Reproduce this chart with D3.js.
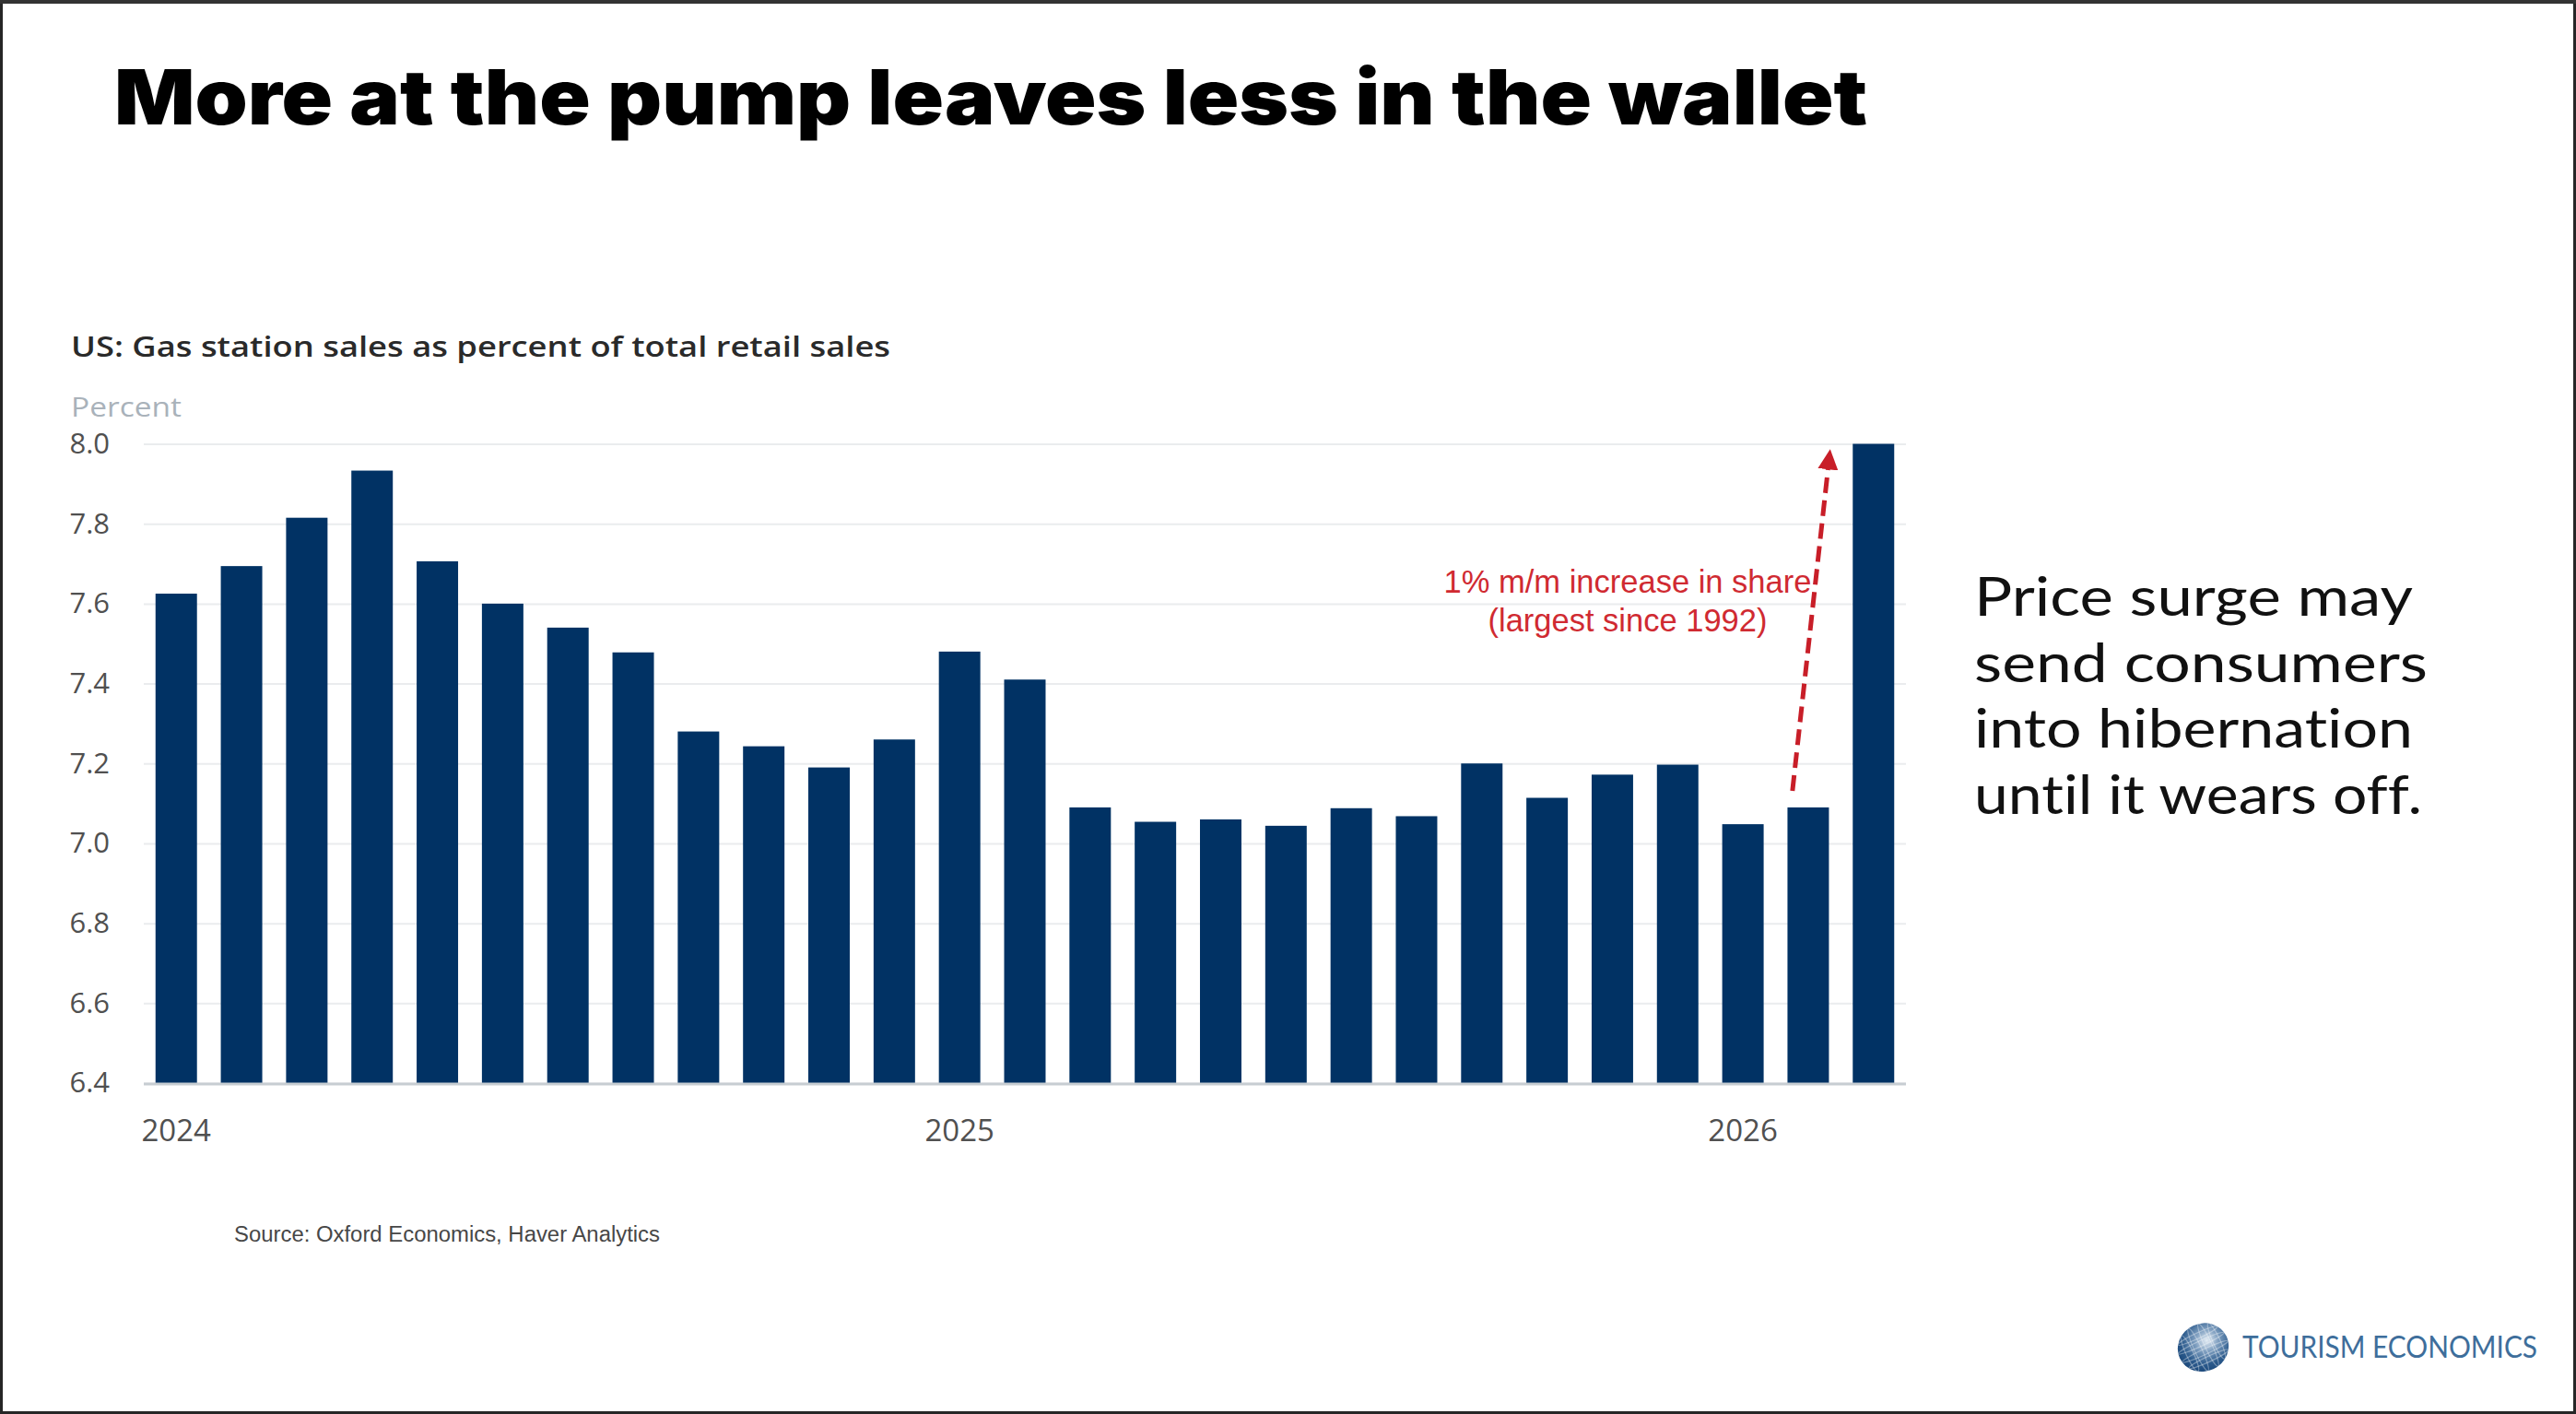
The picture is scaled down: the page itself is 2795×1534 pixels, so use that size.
<!DOCTYPE html>
<html>
<head>
<meta charset="utf-8">
<script src="https://cdn.jsdelivr.net/npm/d3@7"></script>
<style>
  html, body { margin: 0; padding: 0; background: #ffffff; }
  svg { display: block; }
  text { font-variant-ligatures: none; font-feature-settings: "liga" 0, "clig" 0; }
</style>
</head>
<body>
<svg id="slide" width="2795" height="1534"></svg>
<script>
// ---------- data ----------
const months = [
  "2024-01","2024-02","2024-03","2024-04","2024-05","2024-06","2024-07","2024-08","2024-09","2024-10","2024-11","2024-12",
  "2025-01","2025-02","2025-03","2025-04","2025-05","2025-06","2025-07","2025-08","2025-09","2025-10","2025-11","2025-12",
  "2026-01","2026-02","2026-03"
];
const shareValues = [
  7.625, 7.694, 7.815, 7.933, 7.706, 7.600, 7.540, 7.478, 7.280, 7.243, 7.190, 7.260,
  7.480, 7.410, 7.090, 7.054, 7.060, 7.044, 7.088, 7.068, 7.200, 7.114, 7.172, 7.197,
  7.048, 7.090, 8.000
];
const yTickValues = [6.4, 6.6, 6.8, 7.0, 7.2, 7.4, 7.6, 7.8, 8.0];
const xTickMonths = ["2024-01", "2025-01", "2026-01"];
const xTickLabels = ["2024", "2025", "2026"];
const titleText = "More at the pump leaves less in the wallet";
const chartTitle = "US: Gas station sales as percent of total retail sales";
const unitLabel = "Percent";
const annotationLines = ["1% m/m increase in share", "(largest since 1992)"];
const sideTextLines = ["Price surge may", "send consumers", "into hibernation", "until it wears off."];
const sourceText = "Source: Oxford Economics, Haver Analytics";
const logoText = "TOURISM ECONOMICS";

// ---------- setup ----------
const svg = d3.select("#slide");
const W = 2795, H = 1534;

svg.append("rect").attr("x", 0).attr("y", 0).attr("width", W).attr("height", H).attr("fill", "#ffffff");

// Title
svg.append("text")
  .attr("x", 124).attr("y", 135)
  .attr("font-family", "Inter, Lato, 'Open Sans', sans-serif")
  .attr("font-weight", 900)
  .attr("font-size", 83)
  .attr("fill", "#000")
  .attr("textLength", 1902)
  .attr("lengthAdjust", "spacingAndGlyphs")
  .text(titleText);

// Chart titles
svg.append("text")
  .attr("x", 77).attr("y", 387)
  .attr("font-family", "'Open Sans', 'Noto Sans', sans-serif")
  .attr("font-weight", 600)
  .attr("font-size", 30)
  .attr("fill", "#2a2a2a")
  .attr("textLength", 889)
  .attr("lengthAdjust", "spacingAndGlyphs")
  .text(chartTitle);

svg.append("text")
  .attr("x", 77).attr("y", 452)
  .attr("font-family", "'Open Sans', 'Noto Sans', sans-serif")
  .attr("font-size", 30)
  .attr("fill", "#a9b2ba")
  .attr("textLength", 120)
  .attr("lengthAdjust", "spacingAndGlyphs")
  .text(unitLabel);

// ---------- scales ----------
const x = d3.scaleBand()
  .domain(months)
  .range([156, 2068])
  .paddingInner(0.365)
  .paddingOuter(0.18);

const y = d3.scaleLinear()
  .domain([6.4, 8.0])
  .range([1175, 481.5]);

// gridlines + y labels via axis
const yAxis = d3.axisLeft(y)
  .tickValues(yTickValues)
  .tickSize(-(2068 - 156))
  .tickPadding(37)
  .tickFormat(d3.format(".1f"));

const gy = svg.append("g")
  .attr("transform", "translate(156,0)")
  .call(yAxis);
gy.select(".domain").remove();
gy.selectAll(".tick line")
  .attr("stroke", "#eaecee")
  .attr("stroke-width", 2);
gy.selectAll(".tick text")
  .attr("font-family", "'Open Sans', 'Noto Sans', sans-serif")
  .attr("font-size", 31)
  .attr("fill", "#505050");

// bars
svg.append("g")
  .selectAll("rect")
  .data(months)
  .join("rect")
  .attr("x", d => x(d))
  .attr("width", x.bandwidth())
  .attr("y", (d, i) => y(shareValues[i]))
  .attr("height", (d, i) => y(6.4) - y(shareValues[i]))
  .attr("fill", "#013264");

// baseline
svg.append("line")
  .attr("x1", 156).attr("x2", 2068)
  .attr("y1", y(6.4) + 1).attr("y2", y(6.4) + 1)
  .attr("stroke", "#c7cdd2")
  .attr("stroke-width", 3);

// x axis labels
const xAxis = d3.axisBottom(x)
  .tickValues(xTickMonths)
  .tickSize(0)
  .tickPadding(0)
  .tickFormat(d => xTickLabels[xTickMonths.indexOf(d)]);

const gx = svg.append("g")
  .attr("transform", "translate(0,1175)")
  .call(xAxis);
gx.select(".domain").remove();
gx.selectAll(".tick text")
  .attr("dy", null)
  .attr("y", 63)
  .attr("font-family", "'Open Sans', 'Noto Sans', sans-serif")
  .attr("font-size", 33)
  .attr("fill", "#505050");

// ---------- annotation ----------
const red = "#c81e28";
const defs = svg.append("defs");
defs.append("marker")
  .attr("id", "arrowHead")
  .attr("viewBox", "0 0 10 10")
  .attr("refX", 9).attr("refY", 5)
  .attr("markerWidth", 4.4).attr("markerHeight", 4.4)
  .attr("markerUnits", "strokeWidth")
  .attr("orient", "auto")
  .append("path")
  .attr("d", "M0,0 L10,5 L0,10 Z")
  .attr("fill", red);

const iFrom = months.indexOf("2026-02");
const iTo = months.indexOf("2026-03");
const ax1 = x(months[iFrom]) + x.bandwidth() * 0.12;
const ay1 = y(shareValues[iFrom]) - 18;
const ax2 = x(months[iTo]) - x.bandwidth() * 0.55;
const ay2 = y(shareValues[iTo]) + 8;

svg.append("line")
  .attr("x1", ax1).attr("y1", ay1)
  .attr("x2", ax2).attr("y2", ay2)
  .attr("stroke", red)
  .attr("stroke-width", 5)
  .attr("stroke-dasharray", "17,8")
  .attr("marker-end", "url(#arrowHead)");

svg.append("g")
  .selectAll("text")
  .data(annotationLines)
  .join("text")
  .attr("x", 1766)
  .attr("y", (d, i) => 643 + i * 42)
  .attr("text-anchor", "middle")
  .attr("font-family", "'Liberation Sans', Arial, sans-serif")
  .attr("font-size", 34.5)
  .attr("fill", "#d02a31")
  .text(d => d);

// ---------- side text ----------
const sideWidths = [476, 492, 476, 486];
svg.append("g")
  .selectAll("text")
  .data(sideTextLines)
  .join("text")
  .attr("x", 2142)
  .attr("y", (d, i) => 668 + i * 71.7)
  .attr("font-family", "Lato, 'Open Sans', sans-serif")
  .attr("font-weight", 400)
  .attr("font-size", 58)
  .attr("fill", "#111")
  .attr("textLength", (d, i) => sideWidths[i])
  .attr("lengthAdjust", "spacingAndGlyphs")
  .text(d => d);

// ---------- source ----------
svg.append("text")
  .attr("x", 254).attr("y", 1347)
  .attr("font-family", "'Liberation Sans Narrow', 'Liberation Sans', Arial, sans-serif")
  .attr("font-size", 23)
  .attr("fill", "#474747")
  .attr("textLength", 462)
  .attr("lengthAdjust", "spacingAndGlyphs")
  .text(sourceText);

// ---------- logo ----------
const grad = defs.append("radialGradient")
  .attr("id", "globeGrad")
  .attr("cx", "62%").attr("cy", "40%").attr("r", "65%");
grad.append("stop").attr("offset", "0%").attr("stop-color", "#e4edf5");
grad.append("stop").attr("offset", "35%").attr("stop-color", "#7f9fc0");
grad.append("stop").attr("offset", "75%").attr("stop-color", "#2b5a8c");
grad.append("stop").attr("offset", "100%").attr("stop-color", "#1d4a7c");

const globe = svg.append("g").attr("transform", "translate(2390.5,1461.7) rotate(-25)");
globe.append("ellipse").attr("rx", 28).attr("ry", 26).attr("fill", "url(#globeGrad)");
[-14, -5, 5, 14].forEach(dy => {
  globe.append("ellipse").attr("cx", 0).attr("cy", dy).attr("rx", Math.sqrt(Math.max(0, 1 - (dy * dy) / (26 * 26))) * 28).attr("ry", 3)
    .attr("fill", "none").attr("stroke", "rgba(255,255,255,0.35)").attr("stroke-width", 1.2);
});
[-16, -6, 6, 16].forEach(dx => {
  globe.append("ellipse").attr("cx", dx).attr("cy", 0).attr("rx", 4).attr("ry", 26 * Math.sqrt(Math.max(0, 1 - (dx * dx) / (28 * 28))))
    .attr("fill", "none").attr("stroke", "rgba(255,255,255,0.35)").attr("stroke-width", 1.2);
});

svg.append("text")
  .attr("x", 2433).attr("y", 1473)
  .attr("font-family", "Lato, 'Open Sans', sans-serif")
  .attr("font-size", 32)
  .attr("fill", "#3e6e9b")
  .attr("textLength", 320)
  .attr("lengthAdjust", "spacingAndGlyphs")
  .text(logoText);

// ---------- slide frame ----------
svg.append("rect")
  .attr("x", 1.5).attr("y", 1.5)
  .attr("width", W - 3).attr("height", H - 3)
  .attr("fill", "none")
  .attr("stroke", "#262626")
  .attr("stroke-width", 3);
svg.append("rect")
  .attr("x", 0).attr("y", 0).attr("width", W).attr("height", 4)
  .attr("fill", "#333");
</script>
</body>
</html>
